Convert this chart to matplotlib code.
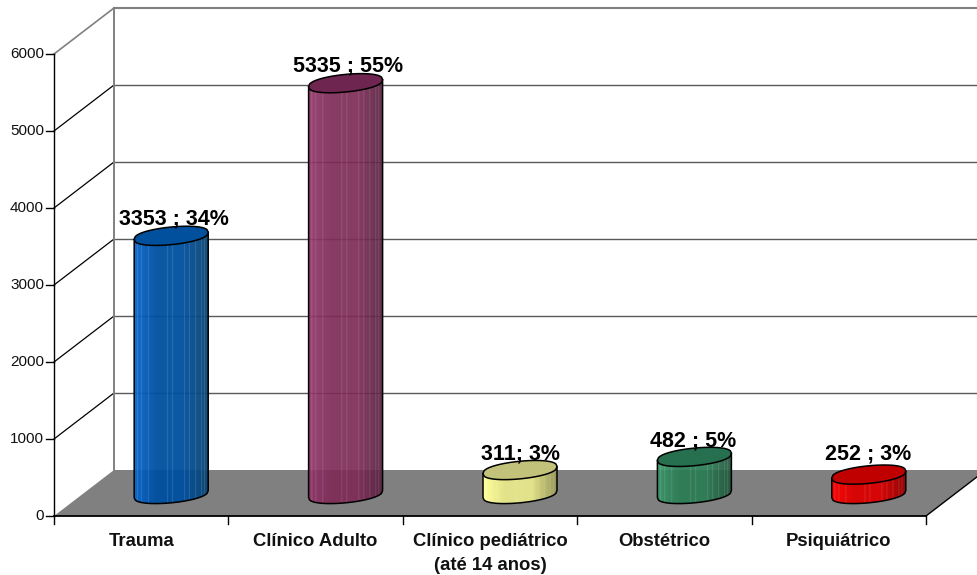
import numpy as np
import matplotlib
matplotlib.use('Agg')
import matplotlib.pyplot as plt
from matplotlib.colors import LinearSegmentedColormap, to_rgb

categories = ['Trauma', 'Clínico Adulto', 'Clínico pediátrico\n(até 14 anos)', 'Obstétrico', 'Psiquiátrico']
values = [3353, 5335, 311, 482, 252]
labels = ['3353 ; 34%', '5335 ; 55%', '311; 3%', '482 ; 5%', '252 ; 3%']
y_ticks = [0, 1000, 2000, 3000, 4000, 5000, 6000]

# left, middle, right of the cylinder, then the lid
bar_colors = [
    ['#0866cc', '#0050a0', '#0c4674', '#00509e'],
    ['#923468', '#7e2c58', '#582240', '#6e2650'],
    ['#ffff99', '#e2e28a', '#96965a', '#c2c27a'],
    ['#369666', '#2a7c54', '#22563c', '#26704f'],
    ['#ff0000', '#dc0000', '#940000', '#c00000'],
]
label_lift = [17, 17, 16, 16, 21]
label_shift = [3, 2, 0.5, -1.5, -1]

W, H = 978, 575
PX_X = 174.4   # pixels per category
PX_Y = 0.077   # pixels per value unit
X0, Y0 = 54, 516

fig = plt.figure(figsize=(W / 100, H / 100), dpi=100)
ax = fig.add_axes([0, 0, 1, 1])
ax.set_xlim(-X0 / PX_X, (W - X0) / PX_X)
ax.set_ylim(-(H - Y0) / PX_Y, Y0 / PX_Y)
ax.axis('off')

plt.rcParams['font.family'] = ['Liberation Sans', 'DejaVu Sans']

px = 1 / PX_X
py = 1 / PX_Y
depth_x = 60 * px
depth_y = 46 * py
n_cat = len(categories)
top = y_ticks[-1]

# floor
ax.fill([0, depth_x, n_cat + depth_x, n_cat],
        [0, depth_y, depth_y, 0], color='#808080', lw=0, zorder=1)

# back wall and side wall grid
for t in y_ticks[1:]:
    grey = t == top
    ax.plot([depth_x, n_cat + depth_x], [t + depth_y, t + depth_y],
            color='#808080' if grey else '#5a5a5a', lw=1.5 if grey else 1.0, zorder=1)
    ax.plot([0, depth_x], [t, t + depth_y],
            color='#808080' if grey else 'black', lw=1.2 if grey else 0.9, zorder=1)
ax.plot([depth_x, depth_x], [depth_y, top + depth_y], color='#808080', lw=1.4, zorder=1)

# axes
ax.plot([0, 0], [0, top], color='black', lw=1, zorder=2)
ax.plot([0, n_cat], [0, 0], color='black', lw=1.3, zorder=2)
ax.plot([n_cat, n_cat + depth_x], [0, depth_y], color='black', lw=1, zorder=2)
for t in y_ticks:
    ax.plot([-8 * px, 0], [t, t], color='black', lw=1, zorder=2)
    ax.text(-10 * px, t, str(t), ha='right', va='center', fontsize=11, color='#111111')
for i in range(n_cat + 1):
    ax.plot([i, i], [0, -8 * py], color='black', lw=1, zorder=2)

# cylinders
a = 37 * px
b = 8.8 * py
shear = 3.5 * py
lift = 22 * py
off_x = 30 * px
stripes = [0.04, 0.1, 0.19, 0.44, 0.52, 0.67, 0.74, 0.82, 0.9, 0.95]
s = np.linspace(-1, 1, 75)
lower = -b * (1 - s ** 2) ** 0.42 + shear * s
upper = b * (1 - s ** 2) ** 0.42 + shear * s

for i, (v, cols) in enumerate(zip(values, bar_colors)):
    cx = i + 0.5 + off_x
    cmap = LinearSegmentedColormap.from_list(
        'c', [(0, to_rgb(cols[0])), (0.3, to_rgb(cols[1])), (0.65, to_rgb(cols[1])), (1, to_rgb(cols[2]))])
    xs = cx + a * s
    y_top = v + lift + lower
    y_bot = lift + lower
    for j in range(len(s) - 1):
        f = j / (len(s) - 1)
        c = np.array(cmap(f)[:3])
        if any(abs(f - p) < 0.007 for p in stripes):
            c = c + (1 - c) * 0.12
        ax.fill([xs[j], xs[j + 1], xs[j + 1], xs[j]],
                [y_bot[j], y_bot[j + 1], y_top[j + 1], y_top[j]],
                color=tuple(c), lw=0.3, zorder=3)
    ax.plot(np.r_[xs[0], xs, xs[-1]], np.r_[y_top[0], y_bot, y_top[-1]],
            color='black', lw=1.1, zorder=4)
    # lid
    ax.fill(np.r_[xs, xs[::-1]], np.r_[y_top, (v + lift + upper)[::-1]],
            facecolor=cols[3], edgecolor='black', lw=1.1, zorder=5)
    ax.text(cx + label_shift[i] * px, v + lift + label_lift[i] * py, labels[i],
            ha='center', va='center', fontsize=15.5, fontweight='bold', color='black', zorder=6)

# category labels
for i, c in enumerate(categories):
    ax.text(i + 0.5, -17 * py, c, ha='center', va='top', fontsize=13.3,
            fontweight='bold', color='#111111', linespacing=1.5)

fig.savefig('out.png', dpi=100, facecolor='white')
